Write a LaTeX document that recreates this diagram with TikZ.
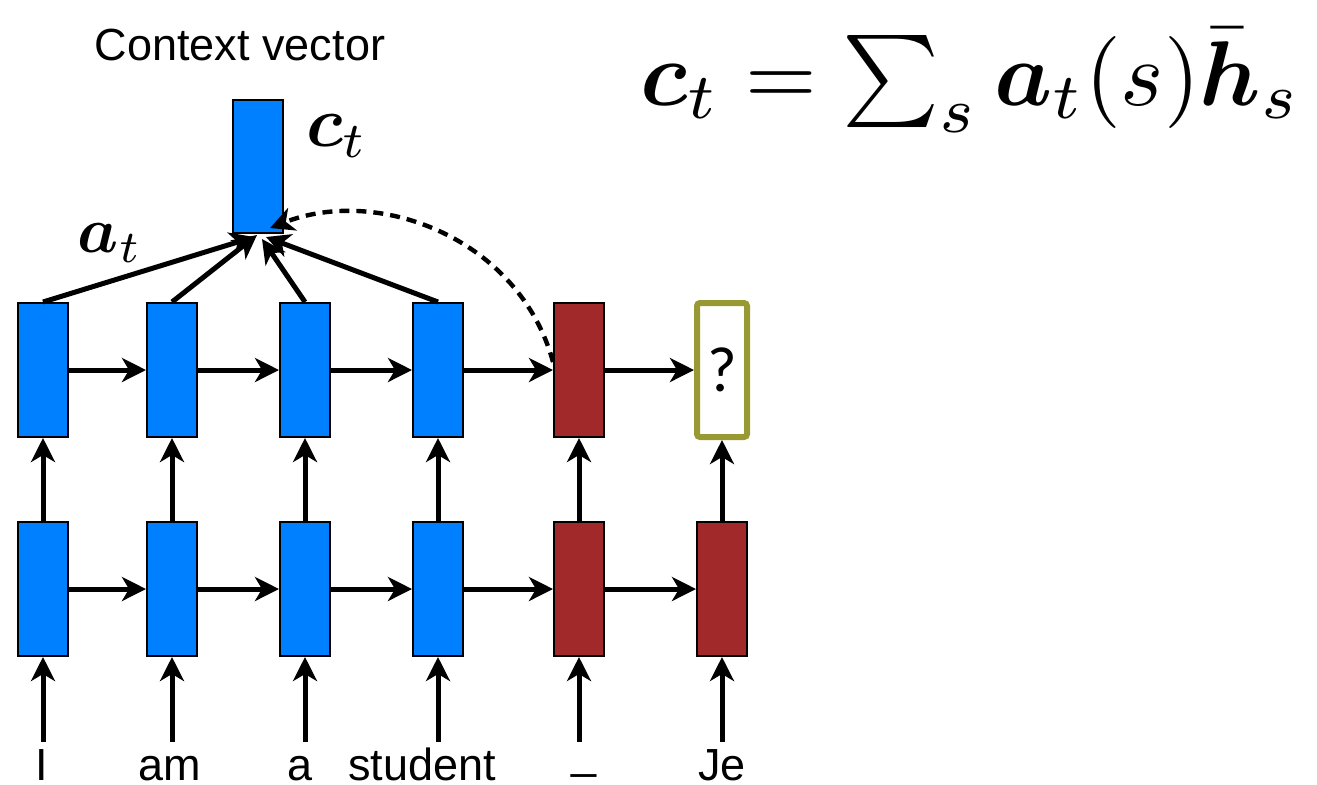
\documentclass[tikz,border=0pt]{standalone}
\usepackage{amsmath,bm}
\usepackage{fontspec}
\setmainfont{Liberation Sans}
\newfontfamily\qfont{Carlito}
\usetikzlibrary{arrows.meta}
\definecolor{encblue}{RGB}{0,128,255}
\definecolor{decred}{RGB}{162,41,42}
\definecolor{qolive}{RGB}{153,153,51}
\begin{document}
\begin{tikzpicture}[x=0.5pt,y=-0.5pt,
  cell/.style={draw=black, line width=1pt, minimum width=25pt, minimum height=67pt, inner sep=0pt},
  enc/.style={cell, fill=encblue},
  dec/.style={cell, fill=decred},
  qbox/.style={draw=qolive, line width=3pt, rounded corners=1.5pt, fill=white, minimum width=25pt, minimum height=67pt, inner sep=0pt},
  conn/.style={line width=2.5pt, -{Stealth[length=12pt,width=12pt,inset=3.5pt]}},
  dashconn/.style={line width=2.2pt, dash pattern=on 5pt off 3.5pt, -{Stealth[length=12pt,width=12pt,inset=3.5pt]}},
  word/.style={font=\fontsize{22.5}{26}\selectfont, anchor=base, inner sep=0pt},
  mathlbl/.style={inner sep=0pt}]
\useasboundingbox (0,0) rectangle (1317,784);

% top row
\node[enc] (t1) at (43,370) {};
\node[enc] (t2) at (172,370) {};
\node[enc] (t3) at (305,370) {};
\node[enc] (t4) at (438,370) {};
\node[dec] (t5) at (579,370) {};
\node[qbox] (t6) at (722,370) {\qfont\fontsize{32}{34}\selectfont ?};
% bottom row
\node[enc] (b1) at (43,589) {};
\node[enc] (b2) at (172,589) {};
\node[enc] (b3) at (305,589) {};
\node[enc] (b4) at (438,589) {};
\node[dec] (b5) at (579,589) {};
\node[dec] (b6) at (722,589) {};
% context vector
\node[enc, minimum height=66.5pt] (ct) at (258,166.5) {};
\node[font=\fontsize{22.5}{26}\selectfont, inner sep=0pt] (cv) at (240,45) {Context vector};
\node[mathlbl] (ctl) at (337,136) {\resizebox{31pt}{!}{$\bm{c}_t$}};
\node[mathlbl] (atl) at (110,243) {\resizebox{32pt}{!}{$\bm{a}_t$}};
% formula
\node[anchor=base west, inner sep=0pt] (eq) at (640,105) {\resizebox{330pt}{!}{$\bm{c}_t = \sum_s \bm{a}_t(s)\bm{\bar{h}}_s$}};

% input coordinates and words
\foreach \i/\x in {1/43,2/172,3/305,4/438,5/579,6/722} {
  \coordinate (i\i) at (\x,742);
}
\node[word] (w1) at (42,780) {I};
\node[word] (w2) at (170,780) {am};
\node[word] (w3) at (300,780) {a};
\node[word] (w4) at (422,780) {student};
\node[word] (w5) at (584,768) {\_};
\node[word] (w6) at (722,780) {Je};

% inputs
\foreach \i in {1,...,6} { \draw[conn] (i\i) -- (b\i); }
% vertical between rows
\foreach \i in {1,...,6} { \draw[conn] (b\i) -- (t\i); }
% horizontal
\foreach \a/\b in {1/2,2/3,3/4,4/5,5/6} {
  \draw[conn] (t\a) -- (t\b);
  \draw[conn] (b\a) -- (b\b);
}
% attention arrows
\draw[conn] (t1.north) -- ([shift={(-4,3)}]ct.south);
\draw[conn] (t2.north) -- ([shift={(-1,1)}]ct.south);
\draw[conn] (t3.north) -- ([shift={(4,5)}]ct.south);
\draw[conn] (t4.north) -- ([shift={(8,3)}]ct.south);
% dashed feedback
\draw[dashconn] ([yshift=4pt]t5.west) .. controls (520,240) and (380,185) .. ([shift={(12,-6)}]ct.south);
\end{tikzpicture}
\end{document}
